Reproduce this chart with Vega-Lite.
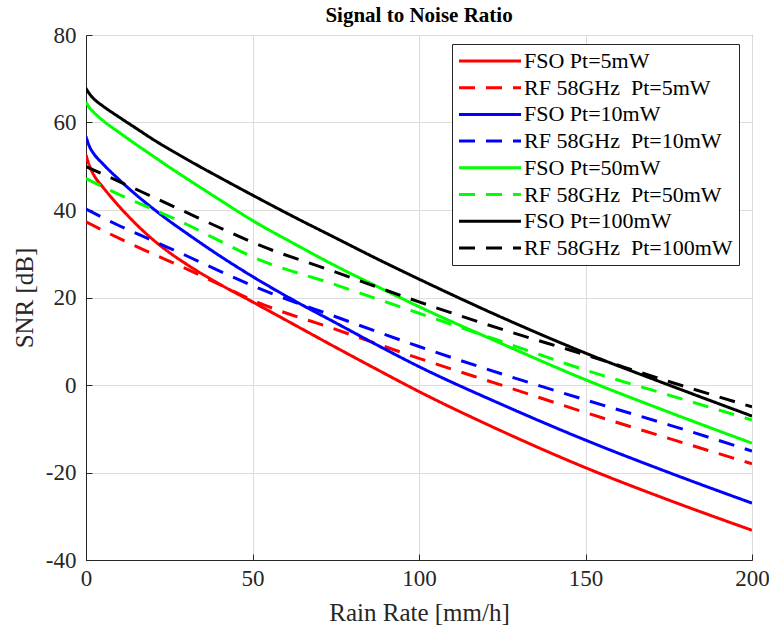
{
  "$schema": "https://vega.github.io/schema/vega-lite/v6.json",
  "width": 666,
  "height": 525,
  "autosize": {"type": "none"},
  "padding": {"left": 86, "top": 35, "right": 17, "bottom": 74},
  "background": "white",
  "title": {"text": "Signal to Noise Ratio", "font": "Liberation Serif", "fontSize": 21, "fontWeight": "bold", "color": "#000000", "offset": -2},
  "datasets": {
    "snr": [
      {"series": "FSO Pt=5mW", "rate": 0, "snr": 52.6},
      {"series": "FSO Pt=5mW", "rate": 1, "snr": 50.2},
      {"series": "FSO Pt=5mW", "rate": 2.5, "snr": 47.8},
      {"series": "FSO Pt=5mW", "rate": 5, "snr": 45.3},
      {"series": "FSO Pt=5mW", "rate": 10, "snr": 40.8},
      {"series": "FSO Pt=5mW", "rate": 15, "snr": 36.8},
      {"series": "FSO Pt=5mW", "rate": 20, "snr": 33.3},
      {"series": "FSO Pt=5mW", "rate": 25, "snr": 30.3},
      {"series": "FSO Pt=5mW", "rate": 30, "snr": 27.7},
      {"series": "FSO Pt=5mW", "rate": 40, "snr": 23.1},
      {"series": "FSO Pt=5mW", "rate": 50, "snr": 19.0},
      {"series": "FSO Pt=5mW", "rate": 62.5, "snr": 13.8},
      {"series": "FSO Pt=5mW", "rate": 75, "snr": 8.6},
      {"series": "FSO Pt=5mW", "rate": 87.5, "snr": 3.5},
      {"series": "FSO Pt=5mW", "rate": 100, "snr": -1.5},
      {"series": "FSO Pt=5mW", "rate": 125, "snr": -10.6},
      {"series": "FSO Pt=5mW", "rate": 150, "snr": -18.9},
      {"series": "FSO Pt=5mW", "rate": 175, "snr": -26.3},
      {"series": "FSO Pt=5mW", "rate": 200, "snr": -33.2},

      {"series": "RF 58GHz\u00a0\u00a0Pt=5mW", "rate": 0, "snr": 37.3},
      {"series": "RF 58GHz\u00a0\u00a0Pt=5mW", "rate": 10, "snr": 33.5},
      {"series": "RF 58GHz\u00a0\u00a0Pt=5mW", "rate": 20, "snr": 30.0},
      {"series": "RF 58GHz\u00a0\u00a0Pt=5mW", "rate": 30, "snr": 26.6},
      {"series": "RF 58GHz\u00a0\u00a0Pt=5mW", "rate": 40, "snr": 23.0},
      {"series": "RF 58GHz\u00a0\u00a0Pt=5mW", "rate": 50, "snr": 19.4},
      {"series": "RF 58GHz\u00a0\u00a0Pt=5mW", "rate": 75, "snr": 12.7},
      {"series": "RF 58GHz\u00a0\u00a0Pt=5mW", "rate": 100, "snr": 6.1},
      {"series": "RF 58GHz\u00a0\u00a0Pt=5mW", "rate": 125, "snr": -0.1},
      {"series": "RF 58GHz\u00a0\u00a0Pt=5mW", "rate": 150, "snr": -6.3},
      {"series": "RF 58GHz\u00a0\u00a0Pt=5mW", "rate": 175, "snr": -12.2},
      {"series": "RF 58GHz\u00a0\u00a0Pt=5mW", "rate": 200, "snr": -18.0},

      {"series": "FSO Pt=10mW", "rate": 0, "snr": 56.8},
      {"series": "FSO Pt=10mW", "rate": 1, "snr": 54.6},
      {"series": "FSO Pt=10mW", "rate": 2.5, "snr": 52.7},
      {"series": "FSO Pt=10mW", "rate": 5, "snr": 50.6},
      {"series": "FSO Pt=10mW", "rate": 10, "snr": 46.9},
      {"series": "FSO Pt=10mW", "rate": 15, "snr": 43.5},
      {"series": "FSO Pt=10mW", "rate": 20, "snr": 40.4},
      {"series": "FSO Pt=10mW", "rate": 25, "snr": 37.5},
      {"series": "FSO Pt=10mW", "rate": 30, "snr": 34.8},
      {"series": "FSO Pt=10mW", "rate": 40, "snr": 29.6},
      {"series": "FSO Pt=10mW", "rate": 50, "snr": 24.8},
      {"series": "FSO Pt=10mW", "rate": 62.5, "snr": 19.3},
      {"series": "FSO Pt=10mW", "rate": 75, "snr": 14.2},
      {"series": "FSO Pt=10mW", "rate": 87.5, "snr": 9.1},
      {"series": "FSO Pt=10mW", "rate": 100, "snr": 4.2},
      {"series": "FSO Pt=10mW", "rate": 125, "snr": -4.5},
      {"series": "FSO Pt=10mW", "rate": 150, "snr": -12.6},
      {"series": "FSO Pt=10mW", "rate": 175, "snr": -20.0},
      {"series": "FSO Pt=10mW", "rate": 200, "snr": -27.0},

      {"series": "RF 58GHz\u00a0\u00a0Pt=10mW", "rate": 0, "snr": 40.2},
      {"series": "RF 58GHz\u00a0\u00a0Pt=10mW", "rate": 10, "snr": 36.4},
      {"series": "RF 58GHz\u00a0\u00a0Pt=10mW", "rate": 20, "snr": 33.0},
      {"series": "RF 58GHz\u00a0\u00a0Pt=10mW", "rate": 30, "snr": 29.6},
      {"series": "RF 58GHz\u00a0\u00a0Pt=10mW", "rate": 40, "snr": 26.1},
      {"series": "RF 58GHz\u00a0\u00a0Pt=10mW", "rate": 50, "snr": 22.7},
      {"series": "RF 58GHz\u00a0\u00a0Pt=10mW", "rate": 75, "snr": 15.6},
      {"series": "RF 58GHz\u00a0\u00a0Pt=10mW", "rate": 100, "snr": 8.8},
      {"series": "RF 58GHz\u00a0\u00a0Pt=10mW", "rate": 125, "snr": 2.5},
      {"series": "RF 58GHz\u00a0\u00a0Pt=10mW", "rate": 150, "snr": -3.4},
      {"series": "RF 58GHz\u00a0\u00a0Pt=10mW", "rate": 175, "snr": -9.1},
      {"series": "RF 58GHz\u00a0\u00a0Pt=10mW", "rate": 200, "snr": -15.1},

      {"series": "FSO Pt=50mW", "rate": 0, "snr": 64.7},
      {"series": "FSO Pt=50mW", "rate": 1, "snr": 63.4},
      {"series": "FSO Pt=50mW", "rate": 2.5, "snr": 62.2},
      {"series": "FSO Pt=50mW", "rate": 5, "snr": 60.5},
      {"series": "FSO Pt=50mW", "rate": 10, "snr": 57.7},
      {"series": "FSO Pt=50mW", "rate": 15, "snr": 55.0},
      {"series": "FSO Pt=50mW", "rate": 20, "snr": 52.4},
      {"series": "FSO Pt=50mW", "rate": 25, "snr": 49.8},
      {"series": "FSO Pt=50mW", "rate": 30, "snr": 47.3},
      {"series": "FSO Pt=50mW", "rate": 40, "snr": 42.4},
      {"series": "FSO Pt=50mW", "rate": 50, "snr": 37.6},
      {"series": "FSO Pt=50mW", "rate": 62.5, "snr": 32.3},
      {"series": "FSO Pt=50mW", "rate": 75, "snr": 27.2},
      {"series": "FSO Pt=50mW", "rate": 87.5, "snr": 22.5},
      {"series": "FSO Pt=50mW", "rate": 100, "snr": 17.9},
      {"series": "FSO Pt=50mW", "rate": 125, "snr": 9.4},
      {"series": "FSO Pt=50mW", "rate": 150, "snr": 1.2},
      {"series": "FSO Pt=50mW", "rate": 175, "snr": -6.2},
      {"series": "FSO Pt=50mW", "rate": 200, "snr": -13.3},

      {"series": "\u00a0RF 58GHz\u00a0\u00a0Pt=50mW", "rate": 0, "snr": 47.2},
      {"series": "\u00a0RF 58GHz\u00a0\u00a0Pt=50mW", "rate": 10, "snr": 43.5},
      {"series": "\u00a0RF 58GHz\u00a0\u00a0Pt=50mW", "rate": 20, "snr": 40.2},
      {"series": "\u00a0RF 58GHz\u00a0\u00a0Pt=50mW", "rate": 30, "snr": 36.8},
      {"series": "\u00a0RF 58GHz\u00a0\u00a0Pt=50mW", "rate": 40, "snr": 33.0},
      {"series": "\u00a0RF 58GHz\u00a0\u00a0Pt=50mW", "rate": 50, "snr": 29.3},
      {"series": "\u00a0RF 58GHz\u00a0\u00a0Pt=50mW", "rate": 75, "snr": 22.9},
      {"series": "\u00a0RF 58GHz\u00a0\u00a0Pt=50mW", "rate": 100, "snr": 16.4},
      {"series": "\u00a0RF 58GHz\u00a0\u00a0Pt=50mW", "rate": 125, "snr": 9.9},
      {"series": "\u00a0RF 58GHz\u00a0\u00a0Pt=50mW", "rate": 150, "snr": 3.4},
      {"series": "\u00a0RF 58GHz\u00a0\u00a0Pt=50mW", "rate": 175, "snr": -2.3},
      {"series": "\u00a0RF 58GHz\u00a0\u00a0Pt=50mW", "rate": 200, "snr": -8.0},

      {"series": "FSO Pt=100mW", "rate": 0, "snr": 67.8},
      {"series": "FSO Pt=100mW", "rate": 1, "snr": 66.6},
      {"series": "FSO Pt=100mW", "rate": 2.5, "snr": 65.3},
      {"series": "FSO Pt=100mW", "rate": 5, "snr": 63.8},
      {"series": "FSO Pt=100mW", "rate": 10, "snr": 61.2},
      {"series": "FSO Pt=100mW", "rate": 15, "snr": 58.7},
      {"series": "FSO Pt=100mW", "rate": 20, "snr": 56.2},
      {"series": "FSO Pt=100mW", "rate": 25, "snr": 53.9},
      {"series": "FSO Pt=100mW", "rate": 30, "snr": 51.7},
      {"series": "FSO Pt=100mW", "rate": 40, "snr": 47.5},
      {"series": "FSO Pt=100mW", "rate": 50, "snr": 43.4},
      {"series": "FSO Pt=100mW", "rate": 62.5, "snr": 38.4},
      {"series": "FSO Pt=100mW", "rate": 75, "snr": 33.6},
      {"series": "FSO Pt=100mW", "rate": 87.5, "snr": 28.8},
      {"series": "FSO Pt=100mW", "rate": 100, "snr": 24.2},
      {"series": "FSO Pt=100mW", "rate": 125, "snr": 15.4},
      {"series": "FSO Pt=100mW", "rate": 150, "snr": 7.3},
      {"series": "FSO Pt=100mW", "rate": 175, "snr": 0.0},
      {"series": "FSO Pt=100mW", "rate": 200, "snr": -7.1},

      {"series": "\u00a0RF 58GHz\u00a0\u00a0Pt=100mW", "rate": 0, "snr": 49.9},
      {"series": "\u00a0RF 58GHz\u00a0\u00a0Pt=100mW", "rate": 10, "snr": 46.5},
      {"series": "\u00a0RF 58GHz\u00a0\u00a0Pt=100mW", "rate": 20, "snr": 43.0},
      {"series": "\u00a0RF 58GHz\u00a0\u00a0Pt=100mW", "rate": 30, "snr": 39.5},
      {"series": "\u00a0RF 58GHz\u00a0\u00a0Pt=100mW", "rate": 40, "snr": 36.0},
      {"series": "\u00a0RF 58GHz\u00a0\u00a0Pt=100mW", "rate": 50, "snr": 32.6},
      {"series": "\u00a0RF 58GHz\u00a0\u00a0Pt=100mW", "rate": 75, "snr": 25.8},
      {"series": "\u00a0RF 58GHz\u00a0\u00a0Pt=100mW", "rate": 100, "snr": 19.0},
      {"series": "\u00a0RF 58GHz\u00a0\u00a0Pt=100mW", "rate": 125, "snr": 12.7},
      {"series": "\u00a0RF 58GHz\u00a0\u00a0Pt=100mW", "rate": 150, "snr": 6.9},
      {"series": "\u00a0RF 58GHz\u00a0\u00a0Pt=100mW", "rate": 175, "snr": 0.8},
      {"series": "\u00a0RF 58GHz\u00a0\u00a0Pt=100mW", "rate": 200, "snr": -5.0}
    ]
  },
  "data": {"name": "snr"},
  "mark": {"type": "line", "strokeWidth": 3, "interpolate": "monotone", "clip": true},
  "encoding": {
    "x": {
      "field": "rate", "type": "quantitative",
      "scale": {"domain": [0, 200], "nice": false},
      "axis": {"values": [0, 50, 100, 150, 200], "title": "Rain Rate [mm/h]", "labelPadding": 13, "titlePadding": 10, "labelFlush": false, "labelExpr": "'' + datum.value"}
    },
    "y": {
      "field": "snr", "type": "quantitative",
      "scale": {"domain": [-40, 80], "nice": false},
      "axis": {"values": [-40, -20, 0, 20, 40, 60, 80], "title": "SNR [dB]", "labelPadding": 16, "titlePadding": 8, "labelFlush": false, "labelExpr": "'' + datum.value"}
    },
    "color": {
      "field": "series", "type": "nominal",
      "scale": {
        "domain": ["FSO Pt=5mW", "RF 58GHz\u00a0\u00a0Pt=5mW", "FSO Pt=10mW", "RF 58GHz\u00a0\u00a0Pt=10mW", "FSO Pt=50mW", "\u00a0RF 58GHz\u00a0\u00a0Pt=50mW", "FSO Pt=100mW", "\u00a0RF 58GHz\u00a0\u00a0Pt=100mW"],
        "range": ["#ff0000", "#ff0000", "#0000ff", "#0000ff", "#00ff00", "#00ff00", "#000000", "#000000"]
      },
      "legend": {"title": null}
    },
    "strokeDash": {
      "field": "series", "type": "nominal",
      "scale": {
        "domain": ["FSO Pt=5mW", "RF 58GHz\u00a0\u00a0Pt=5mW", "FSO Pt=10mW", "RF 58GHz\u00a0\u00a0Pt=10mW", "FSO Pt=50mW", "\u00a0RF 58GHz\u00a0\u00a0Pt=50mW", "FSO Pt=100mW", "\u00a0RF 58GHz\u00a0\u00a0Pt=100mW"],
        "range": [[1, 0], [16, 11], [1, 0], [16, 11], [1, 0], [16, 11], [1, 0], [16, 11]]
      },
      "legend": {"title": null}
    }
  },
  "config": {
    "font": "Liberation Serif",
    "view": {"stroke": "#262626", "strokeWidth": 1},
    "axis": {
      "labelFont": "Liberation Serif", "labelFontSize": 23, "labelColor": "#262626",
      "titleFont": "Liberation Serif", "titleFontSize": 25, "titleFontWeight": "normal", "titleColor": "#262626",
      "domainColor": "#262626", "tickColor": "#262626", "tickSize": -6,
      "gridColor": "#dcdcdc", "gridWidth": 1
    },
    "legend": {
      "orient": "none", "legendX": 366, "legendY": 9,
      "strokeColor": "#262626", "fillColor": "white", "padding": 6,
      "symbolType": "M-6.2,0H6.2", "symbolSize": 100, "symbolStrokeWidth": 3, "symbolOffset": 21,
      "labelFont": "Liberation Serif", "labelFontSize": 22, "labelColor": "#000000", "labelOffset": 23, "labelLimit": 400,
      "rowPadding": 4.7
    }
  }
}
